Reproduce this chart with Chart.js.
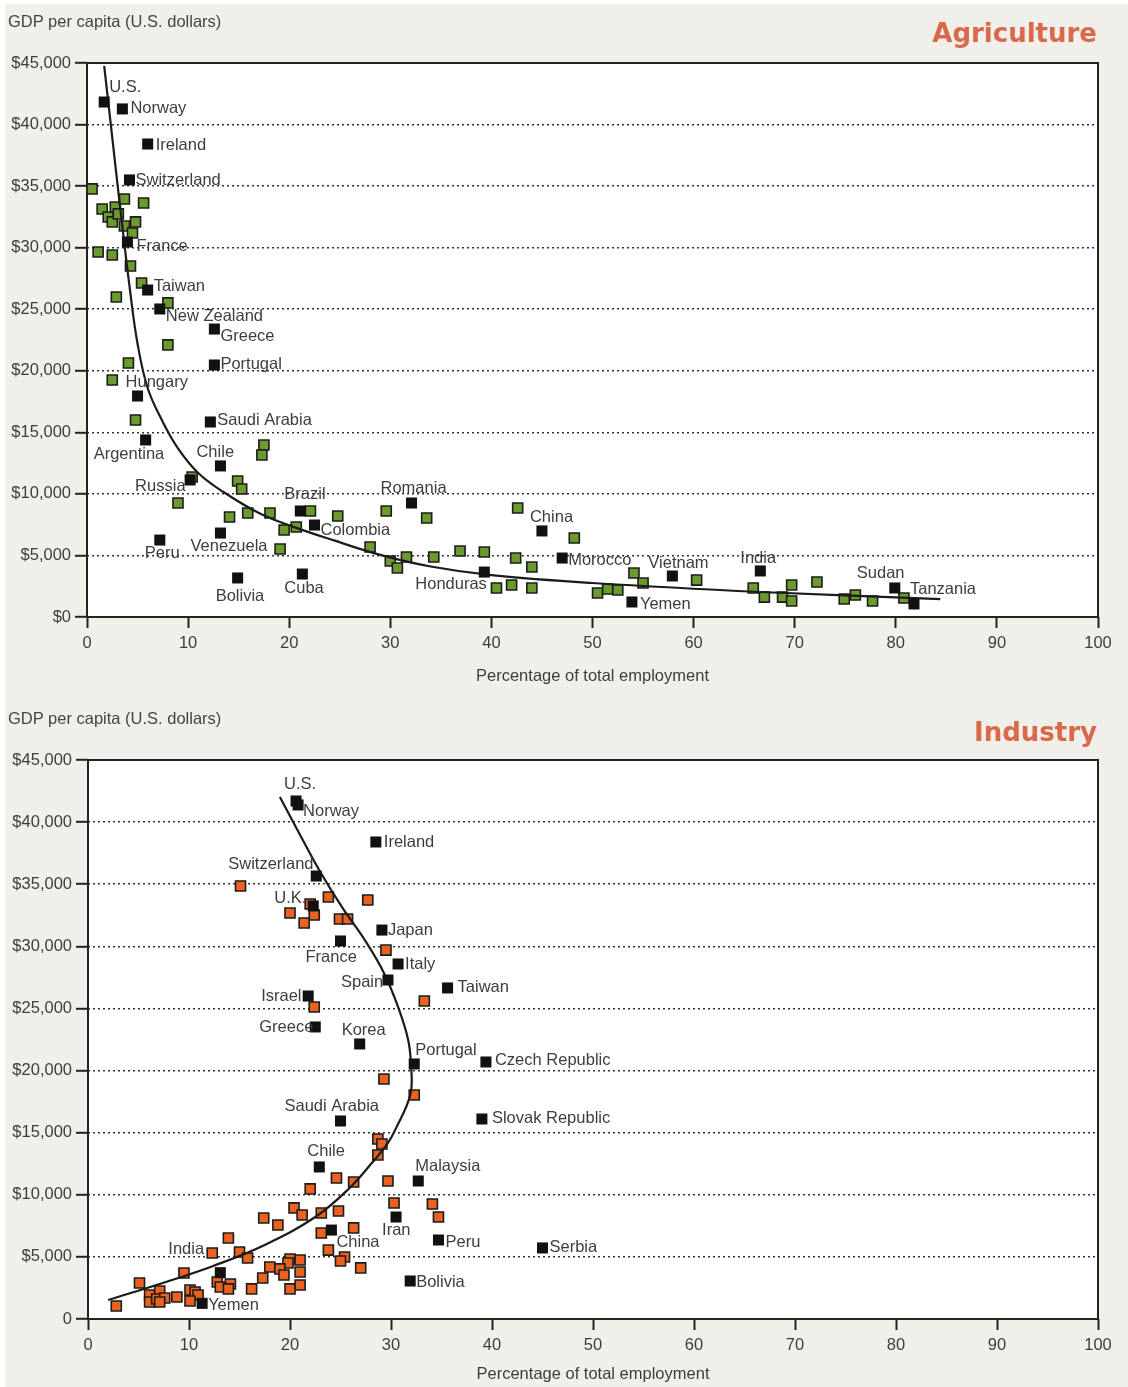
<!DOCTYPE html>
<html>
<head>
<meta charset="utf-8">
<title>GDP per capita vs. share of employment</title>
<script src="https://cdn.jsdelivr.net/npm/chart.js@4.4.1/dist/chart.umd.min.js"></script>
<style>
  html, body { margin: 0; padding: 0; background: #fff; }
  body { position: relative; width: 1128px; height: 1387px; overflow: hidden; }
  #page { position: absolute; left: 5px; top: 4px; width: 1123px; height: 1383px; background: #f0efea; }
  canvas { position: absolute; left: 0; }
  .ylab { position: absolute; left: 8px; font: 16.5px 'Liberation Sans', Arial, sans-serif; color: #444; line-height: 20px; white-space: nowrap; }
  .sector { position: absolute; right: 31px; font: bold 26px 'DejaVu Sans', sans-serif; color: #d9694b; line-height: 30px; white-space: nowrap; }
</style>
</head>
<body>
<div id="page"></div>
<canvas id="agri" width="1128" height="693" style="top:0"></canvas>
<canvas id="ind" width="1128" height="694" style="top:693px"></canvas>
<div class="ylab" style="top:11px">GDP per capita (U.S. dollars)</div>
<div class="sector" style="top:18px">Agriculture</div>
<div class="ylab" style="top:708px">GDP per capita (U.S. dollars)</div>
<div class="sector" style="top:717px">Industry</div>

<script>
// ---------- Agriculture: employment share (%) vs GDP per capita ($) ----------
const agriOtherX = [0.5, 1.5, 2.1, 2.5, 2.8, 3.1, 3.7, 3.7, 4.5, 4.8, 5.6, 1.1, 2.5, 4.3, 5.4, 2.9, 8.0, 8.0, 4.1, 2.5,
  4.8, 17.5, 17.3, 10.4, 14.9, 15.3, 9.0, 14.1, 15.9, 18.1, 22.1, 24.8, 19.5, 20.7, 19.1, 29.6, 33.6, 28.0, 30.0, 30.7,
  31.6, 34.3, 36.9, 39.3, 40.5, 42.0, 42.4, 42.6, 44.0, 44.0, 48.2, 50.5, 51.5, 52.5, 54.1, 55.0, 60.3, 65.9, 67.0, 68.8,
  69.7, 69.7, 72.2, 74.9, 76.0, 77.7, 80.8];
const agriOtherY = [34770, 33140, 32490, 32090, 33300, 32740, 33950, 31760, 31190, 32090, 33630, 29650, 29400, 28510, 27130, 25990, 25510, 22100, 20630, 19250,
  16000, 13970, 13160, 11370, 11050, 10400, 9260, 8120, 8450, 8450, 8610, 8200, 7070, 7310, 5520, 8610, 8040, 5690, 4550, 3980,
  4870, 4870, 5360, 5280, 2360, 2600, 4790, 8850, 4060, 2360, 6420, 1950, 2270, 2190, 3570, 2760, 3000, 2360, 1620, 1620,
  2600, 1300, 2840, 1460, 1790, 1300, 1540];

const agriNames = ['U.S.', 'Norway', 'Ireland', 'Switzerland', 'France', 'Taiwan', 'New Zealand', 'Greece', 'Portugal', 'Hungary',
  'Saudi Arabia', 'Argentina', 'Chile', 'Russia', 'Peru', 'Venezuela', 'Bolivia', 'Cuba', 'Brazil', 'Colombia',
  'Romania', 'China', 'Morocco', 'Honduras', 'Yemen', 'Vietnam', 'India', 'Sudan', 'Tanzania'];
const agriNamedX = [1.7, 3.5, 6.0, 4.2, 4.0, 6.0, 7.2, 12.6, 12.6, 5.0,
  12.2, 5.8, 13.2, 10.2, 7.2, 13.2, 14.9, 21.3, 21.1, 22.5,
  32.1, 45.0, 47.0, 39.3, 53.9, 57.9, 66.6, 79.9, 81.8];
const agriNamedY = [41830, 41270, 38420, 35500, 30460, 26560, 25020, 23390, 20470, 17950,
  15840, 14380, 12270, 11130, 6250, 6820, 3170, 3490, 8610, 7470,
  9260, 6990, 4790, 3650, 1220, 3330, 3740, 2360, 1060];

const agriTrendX = [1.7, 2.3, 2.9, 3.5, 4.2, 5.0, 6.0, 7.4, 9.0, 11.0, 13.5, 17.0, 20.5, 24.5, 29.0, 34.0, 40.0, 50.0, 66.6, 84.4];
const agriTrendY = [44760, 40400, 36000, 31700, 26900, 22200, 18600, 16000, 13700, 11700, 10150, 8450, 7300, 6200, 5050, 4100, 3400, 2760, 2030, 1460];

// ---------- Industry ----------
const indOtherX = [15.1, 22.0, 23.8, 27.7, 20.0, 22.4, 21.4, 24.9, 25.7, 29.5, 22.4, 33.3, 29.3, 32.3, 28.7, 29.1, 28.7, 24.6, 26.3, 22.0,
  29.7, 30.3, 34.1, 34.7, 20.4, 21.2, 17.4, 23.1, 24.8, 18.8, 23.1, 26.3, 13.9, 15.0, 15.8, 12.3, 23.8, 25.4, 25.0, 20.0,
  21.0, 19.8, 27.0, 18.0, 19.0, 19.4, 21.0, 17.3, 21.0, 20.0, 16.2, 9.5, 5.1, 12.8, 13.1, 14.1, 13.9, 6.1, 7.1, 6.1,
  6.8, 7.6, 7.1, 8.8, 10.1, 10.6, 10.9, 10.1, 2.8];
const indOtherY = [34860, 33410, 33970, 33730, 32680, 32520, 31880, 32200, 32200, 29700, 25120, 25600, 19320, 18030, 14490, 14090, 13200, 11350, 11030, 10470,
  11110, 9340, 9260, 8210, 8940, 8370, 8130, 8530, 8690, 7570, 6920, 7330, 6520, 5390, 4910, 5310, 5550, 4990, 4670, 4830,
  4750, 4510, 4110, 4190, 4030, 3540, 3780, 3300, 2740, 2420, 2420, 3700, 2900, 2980, 2580, 2820, 2420, 1930, 2250, 1370,
  1610, 1690, 1370, 1770, 2330, 2170, 1930, 1450, 1050];

const indNames = ['U.S.', 'Norway', 'Ireland', 'Switzerland', 'U.K.', 'Japan', 'France', 'Italy', 'Spain', 'Taiwan',
  'Israel', 'Greece', 'Korea', 'Portugal', 'Czech Republic', 'Slovak Republic', 'Saudi Arabia', 'Chile', 'Malaysia', 'Iran',
  'China', 'Peru', 'Serbia', 'Bolivia', 'India', 'Yemen'];
const indNamedX = [20.6, 20.8, 28.5, 22.6, 22.3, 29.1, 25.0, 30.7, 29.7, 35.6,
  21.8, 22.5, 26.9, 32.3, 39.4, 39.0, 25.0, 22.9, 32.7, 30.5,
  24.1, 34.7, 45.0, 31.9, 13.1, 11.3];
const indNamedY = [41700, 41380, 38400, 35660, 33250, 31310, 30430, 28580, 27290, 26650,
  26000, 23510, 22140, 20530, 20690, 16100, 15940, 12240, 11110, 8210,
  7160, 6360, 5720, 3060, 3730, 1260];

const indTrendX = [19.0, 21.0, 23.0, 25.2, 27.4, 29.3, 30.7, 31.7, 32.0, 32.0, 31.5, 30.7, 29.7, 28.1, 25.9, 22.5, 17.5, 12.4, 7.4, 2.0];
const indTrendY = [42020, 38960, 35980, 33090, 30510, 27860, 25120, 22460, 20210, 18430, 17070, 15700, 14170, 12560, 10550, 8210, 5960, 4270, 2900, 1530];

// Axis ticks
const employmentTicks = [0, 10, 20, 30, 40, 50, 60, 70, 80, 90, 100];
const gdpTicks = [0, 5000, 10000, 15000, 20000, 25000, 30000, 35000, 40000, 45000];

// Label placement (pixel offset of each name from its marker)
const agriLabelOffsets = [[5, -15], [8, 0], [8, 1], [6, 0], [9, 4], [6, -4], [6, 7], [6, 7], [6, -1], [-12, -14],
  [7, -2], [-52, 14], [-24, -13], [-55, 6], [-15, 13], [-30, 13], [-22, 18], [-18, 14], [-16, -17], [6, 5],
  [-31, -15], [-12, -13], [6, 2], [-69, 12], [8, 2], [-24, -13], [-20, -13], [-38, -14], [-4, -14]];
const indLabelOffsets = [[-12, -17], [5, 6], [8, 0], [-88, -12], [-39, -8], [6, 0], [-35, 16], [7, 0], [-47, 2], [10, 0],
  [-47, 0], [-56, 0], [-18, -14], [1, -14], [9, -2], [10, -1], [-56, -15], [-12, -15], [-3, -15], [-14, 13],
  [5, 12], [7, 2], [7, 0], [6, 1], [-52, -23], [6, 2]];

const TEXT_FONT = "'Liberation Sans', Arial, sans-serif";
const TEXT_SIZE = 16.5;
const TEXT_COLOR = '#3d3d3d';
const pts = (xs, ys) => xs.map((x, i) => ({ x, y: ys[i] }));

// White plot area, frame, and country names
const panelPlugin = {
  id: 'panel',
  beforeDraw(chart) {
    const { ctx, chartArea: a } = chart;
    ctx.save();
    ctx.fillStyle = '#ffffff';
    ctx.fillRect(a.left, a.top, a.right - a.left, a.bottom - a.top);
    ctx.restore();
  },
  beforeDatasetsDraw(chart) {
    const { ctx, chartArea: a } = chart;
    ctx.save();
    ctx.strokeStyle = '#222';
    ctx.lineWidth = 2;
    ctx.strokeRect(a.left, a.top, a.right - a.left, a.bottom - a.top);
    ctx.restore();
  },
  afterDatasetsDraw(chart, args, opts) {
    const { ctx, scales } = chart;
    ctx.save();
    ctx.font = TEXT_SIZE + 'px ' + TEXT_FONT;
    ctx.fillStyle = TEXT_COLOR;
    ctx.textAlign = 'left';
    ctx.textBaseline = 'middle';
    opts.names.forEach((name, i) => {
      const px = scales.x.getPixelForValue(opts.xs[i]);
      const py = scales.y.getPixelForValue(opts.ys[i]);
      const [dx, dy] = opts.offsets[i];
      ctx.fillText(name, px + dx, py + dy);
    });
    ctx.restore();
  }
};

function makePanel(canvasId, cfg) {
  const canvas = document.getElementById(canvasId);
  const H = canvas.height;
  return new Chart(canvas, {
    type: 'scatter',
    data: {
      datasets: [
        {
          label: 'named',
          data: pts(cfg.namedX, cfg.namedY),
          pointStyle: 'rect',
          pointRadius: 7.8,
          pointBackgroundColor: '#111',
          pointBorderColor: '#111',
          pointBorderWidth: 0,
          order: 0
        },
        {
          label: 'trend',
          data: pts(cfg.trendX, cfg.trendY),
          showLine: true,
          tension: 0.4,
          borderColor: '#1b1b1b',
          borderWidth: 2.2,
          pointRadius: 0,
          order: 1
        },
        {
          label: 'other',
          data: pts(cfg.otherX, cfg.otherY),
          pointStyle: 'rect',
          pointRadius: 7.1,
          pointBackgroundColor: cfg.fill,
          pointBorderColor: '#1c1c1c',
          pointBorderWidth: 1.6,
          order: 2
        }
      ]
    },
    options: {
      responsive: false,
      animation: false,
      events: [],
      layout: { padding: { top: cfg.top, right: 30, left: 0, bottom: 0 } },
      plugins: {
        legend: { display: false },
        tooltip: { enabled: false },
        panel: { names: cfg.names, xs: cfg.namedX, ys: cfg.namedY, offsets: cfg.offsets }
      },
      scales: {
        x: {
          type: 'linear',
          min: 0, max: 100,
          afterBuildTicks(s) { s.ticks = employmentTicks.map(v => ({ value: v })); },
          afterFit(s) { s.height = H - cfg.bottom; },
          border: { display: false },
          grid: { drawOnChartArea: false, drawTicks: true, tickLength: 11, tickColor: '#222', tickWidth: 2 },
          ticks: { color: TEXT_COLOR, font: { family: TEXT_FONT, size: TEXT_SIZE }, padding: 6, maxRotation: 0 },
          title: { display: true, text: 'Percentage of total employment', color: TEXT_COLOR,
                   font: { family: TEXT_FONT, size: TEXT_SIZE }, padding: { top: 0, bottom: cfg.titlePad } }
        },
        y: {
          type: 'linear',
          min: 0, max: 45000,
          afterBuildTicks(s) { s.ticks = gdpTicks.map(v => ({ value: v })); },
          afterFit(s) { s.width = cfg.left; },
          border: { display: false, dash: [2, 3] },
          grid: {
            color: c => (c.tick && (c.tick.value === 0 || c.tick.value === 45000)) ? 'rgba(0,0,0,0)' : '#333',
            lineWidth: 1.6,
            tickLength: 12, tickColor: '#222', tickWidth: 2, tickBorderDash: []
          },
          ticks: {
            color: TEXT_COLOR, font: { family: TEXT_FONT, size: TEXT_SIZE }, padding: 4,
            callback: v => (v === 0 ? cfg.zeroLabel : '$' + v.toLocaleString('en-US'))
          }
        }
      }
    },
    plugins: [panelPlugin]
  });
}

makePanel('agri', {
  otherX: agriOtherX, otherY: agriOtherY,
  namedX: agriNamedX, namedY: agriNamedY, names: agriNames, offsets: agriLabelOffsets,
  trendX: agriTrendX, trendY: agriTrendY,
  fill: '#6b9a2d', zeroLabel: '$0',
  top: 63, bottom: 617, left: 87, titlePad: 7
});

makePanel('ind', {
  otherX: indOtherX, otherY: indOtherY,
  namedX: indNamedX, namedY: indNamedY, names: indNames, offsets: indLabelOffsets,
  trendX: indTrendX, trendY: indTrendY,
  fill: '#ea6220', zeroLabel: '0',
  top: 67, bottom: 626, left: 88, titlePad: 3
});
</script>
</body>
</html>
